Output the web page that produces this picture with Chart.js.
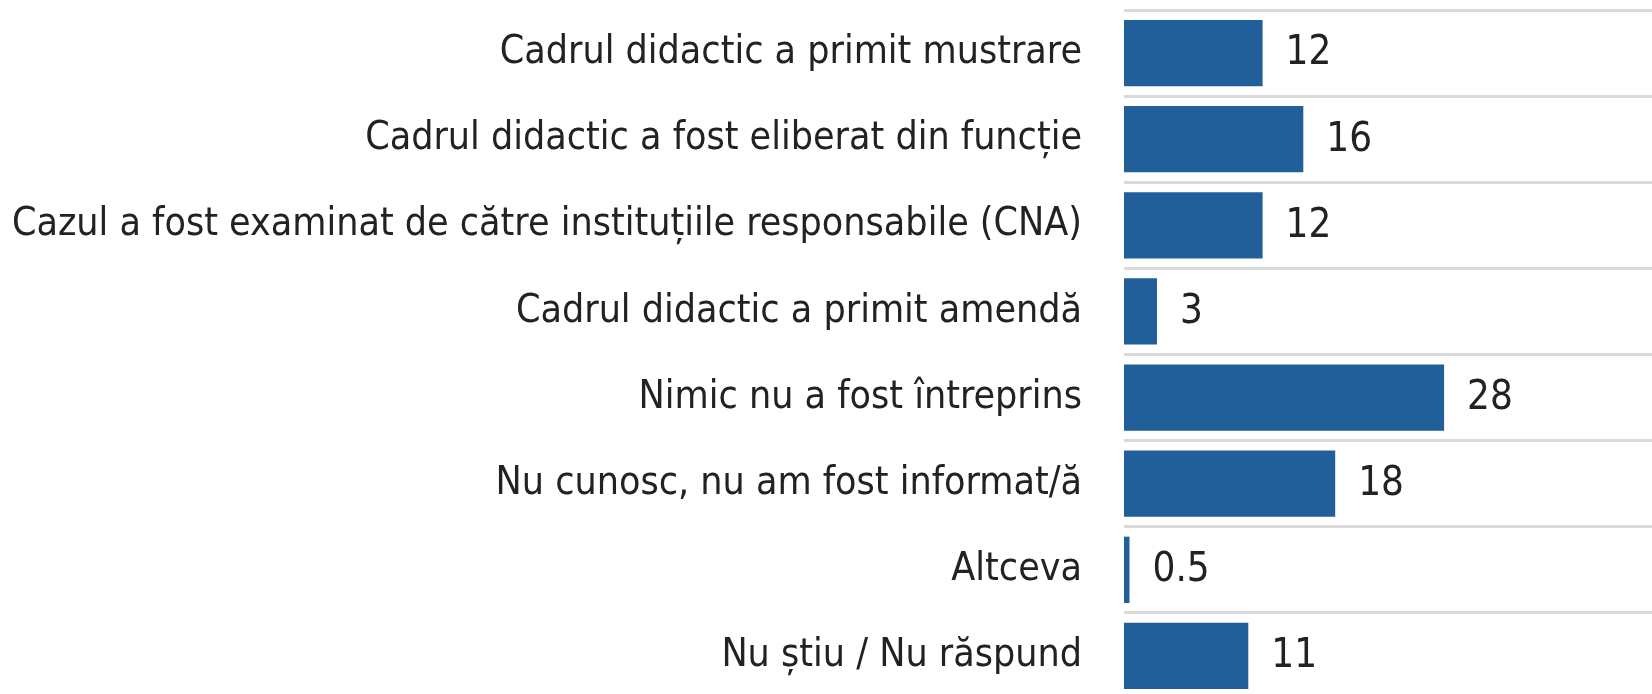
<!DOCTYPE html>
<html>
<head>
<meta charset="utf-8">
<script src="https://cdn.jsdelivr.net/npm/chart.js@4"></script>
<style>
  html, body { margin: 0; padding: 0; background: #fff; overflow: hidden; }
  #wrap { position: absolute; left: 0; top: 0; width: 1652px; height: 702px; }
</style>
</head>
<body>
<div id="wrap"><canvas id="chart"></canvas></div>
<script>
// categories, top to bottom
const categories = [
    'Cadrul didactic a primit mustrare',
    'Cadrul didactic a fost eliberat din funcție',
    'Cazul a fost examinat de către instituțiile responsabile (CNA)',
    'Cadrul didactic a primit amendă',
    'Nimic nu a fost întreprins',
    'Nu cunosc, nu am fost informat/ă',
    'Altceva',
    'Nu știu / Nu răspund'
];
// bar lengths
const values = [12.6, 16.3, 12.6, 3.0, 29.1, 19.2, 0.5, 11.3];
// numbers printed next to the bars
const valueLabels = ['12', '16', '12', '3', '28', '18', '0.5', '11'];

const FONT = "'DejaVu Sans Condensed', 'DejaVu Sans', sans-serif";

// draws the printed value to the right of each bar
const barValues = {
    id: 'barValues',
    afterDatasetsDraw(chart) {
        const ctx = chart.ctx;
        const meta = chart.getDatasetMeta(0);
        ctx.save();
        ctx.font = '40px ' + FONT;
        ctx.fillStyle = '#222';
        ctx.textAlign = 'left';
        ctx.textBaseline = 'middle';
        meta.data.forEach((bar, i) => {
            ctx.fillText(valueLabels[i], bar.x + 23, bar.y + 1);
        });
        ctx.restore();
    }
};

new Chart(document.getElementById('chart'), {
    type: 'bar',
    data: {
        labels: categories,
        datasets: [{
            data: values,
            backgroundColor: '#215f9a',
            borderWidth: 0,
            categoryPercentage: 1,
            barPercentage: 0.77
        }]
    },
    options: {
        indexAxis: 'y',
        responsive: true,
        maintainAspectRatio: false,
        animation: false,
        layout: { padding: { top: 10, bottom: 3, right: 0, left: 0 } },
        plugins: {
            legend: { display: false },
            tooltip: { enabled: false }
        },
        scales: {
            x: {
                display: false,
                min: 0,
                max: 48
            },
            y: {
                afterFit(axis) {
                    axis.width = 1124;
                    axis.paddingTop = 0;
                    axis.paddingBottom = 0;
                },
                border: { display: false },
                grid: {
                    offset: true,
                    drawTicks: false,
                    color: '#dadada',
                    lineWidth: 3
                },
                ticks: {
                    padding: 42,
                    color: '#222',
                    font: { family: FONT, size: 39 }
                }
            }
        }
    },
    plugins: [barValues]
});
</script>
</body>
</html>
